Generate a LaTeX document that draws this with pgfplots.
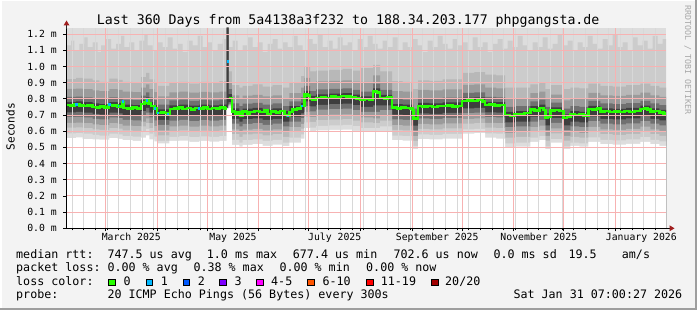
\documentclass[border=0pt]{standalone}
\usepackage{pgfplots}
\pgfplotsset{compat=1.18}
\usepackage{pgfplotstable}
\usepackage{fontspec}
\setmainfont{DejaVu Sans Mono}
\setmonofont{DejaVu Sans Mono}
\definecolor{bgc}{RGB}{243,243,243}
\definecolor{cA}{RGB}{221,221,221}
\definecolor{cB}{RGB}{204,204,204}
\definecolor{cC}{RGB}{184,184,184}
\definecolor{cD}{RGB}{155,155,155}
\definecolor{cE}{RGB}{112,112,112}
\definecolor{cF}{RGB}{62,62,62}
\definecolor{med0}{RGB}{38,255,0}
\definecolor{med1}{RGB}{0,184,255}
\definecolor{med2}{RGB}{0,89,255}
\definecolor{med3}{RGB}{126,0,255}
\definecolor{med4}{RGB}{255,0,255}
\definecolor{med6}{RGB}{255,85,0}
\definecolor{med11}{RGB}{255,0,0}
\definecolor{med20}{RGB}{161,0,0}
\definecolor{arrowc}{RGB}{160,30,30}
\definecolor{wmark}{RGB}{168,168,168}
\definecolor{edgec}{RGB}{158,158,158}
\definecolor{mgrid}{RGB}{247,178,178}
\definecolor{ngrid}{RGB}{216,216,216}
\newcommand\legfont{\fontsize{11.68bp}{13bp}\selectfont}
\newcommand\titfont{\fontsize{13.25bp}{15bp}\selectfont}
\newcommand\axfont{\fontsize{9.8bp}{11bp}\selectfont}
\newcommand\labfont{\fontsize{11.1bp}{12bp}\selectfont}
\newcommand\wmfont{\fontsize{8.3bp}{9bp}\selectfont}

\pgfplotstableread{
d m u3 u4 u5 u6 l6 l5 l4 l3 l2 l1
0 .762 .922 .862 .812 .782 .717 .687 .652 .622 .587 .557
6 .764 .930 .864 .814 .784 .719 .689 .654 .624 .589 .562
10 .760 .925 .860 .810 .780 .715 .685 .650 .620 .585 .552
16 .752 .915 .852 .802 .772 .707 .677 .642 .612 .577 .550
20 .748 .905 .848 .798 .768 .703 .673 .638 .608 .573 .548
26 .760 .925 .860 .810 .780 .715 .685 .650 .620 .585 .558
31 .756 .918 .856 .806 .776 .711 .681 .646 .616 .581 .553
34 .745 .905 .845 .795 .765 .700 .670 .635 .605 .570 .545
40 .742 .900 .842 .792 .762 .697 .667 .632 .602 .567 .540
45 .770 .935 .870 .820 .790 .725 .695 .660 .630 .595 .560
48 .790 .960 .890 .840 .810 .745 .715 .680 .650 .615 .575
50 .760 .920 .860 .810 .780 .715 .685 .650 .620 .585 .550
53 .742 .900 .842 .792 .762 .697 .667 .632 .602 .567 .537
54.5 .715 .880 .815 .765 .735 .670 .640 .605 .575 .540 .525
62 .740 .900 .840 .790 .760 .695 .665 .630 .600 .565 .540
68 .745 .905 .845 .795 .765 .700 .670 .635 .605 .570 .542
74 .738 .895 .838 .788 .758 .693 .663 .628 .598 .563 .535
80 .744 .905 .844 .794 .764 .699 .669 .634 .604 .569 .540
86 .740 .900 .840 .790 .760 .695 .665 .630 .600 .565 .536
92 .745 .910 .845 .795 .765 .700 .670 .635 .605 .570 .540
96.3 1.03 1.24 1.24 1.24 1.24 .745 .744 .743 .742 .741 .740
97.6 .806 .970 .900 .860 .830 .780 .770 .765 .760 .755 .745
99.5 .722 .885 .822 .772 .742 .677 .647 .612 .582 .547 .515
104 .700 .870 .805 .755 .725 .660 .630 .595 .565 .530 .505
106 .720 .880 .820 .770 .740 .675 .645 .610 .580 .545 .515
112 .725 .890 .825 .775 .745 .680 .650 .615 .585 .550 .520
118 .715 .875 .815 .765 .735 .670 .640 .605 .575 .540 .510
124 .722 .885 .822 .772 .742 .677 .647 .612 .582 .547 .518
130 .705 .870 .805 .755 .725 .660 .630 .595 .565 .530 .508
134 .735 .900 .835 .785 .755 .690 .660 .625 .595 .560 .530
141 .756 .940 .870 .810 .776 .711 .681 .646 .616 .581 .555
143 .830 1.00 .930 .880 .850 .785 .755 .720 .690 .655 .620
146.5 .798 .970 .898 .848 .818 .753 .723 .688 .658 .623 .600
150 .808 .975 .908 .858 .828 .763 .733 .698 .668 .633 .605
158 .812 .980 .912 .862 .832 .767 .737 .702 .672 .637 .608
166 .815 .985 .915 .865 .835 .770 .740 .705 .675 .640 .610
172 .806 .975 .906 .856 .826 .761 .731 .696 .666 .631 .603
176.5 .795 .990 .905 .845 .815 .750 .720 .685 .655 .620 .595
184.3 .845 1.01 .945 .895 .865 .760 .720 .680 .650 .620 .600
188.5 .805 .970 .905 .855 .825 .760 .730 .695 .665 .630 .600
195.7 .748 .910 .848 .798 .768 .703 .673 .638 .608 .573 .545
202 .745 .905 .845 .795 .765 .700 .670 .635 .605 .570 .542
208.3 .680 .860 .800 .740 .700 .635 .605 .570 .540 .510 .490
211.3 .755 .915 .855 .805 .775 .710 .680 .645 .615 .580 .552
218 .752 .912 .852 .802 .772 .707 .677 .642 .612 .577 .550
226 .758 .920 .858 .808 .778 .713 .683 .648 .618 .583 .555
237.7 .787 .960 .887 .837 .807 .742 .712 .677 .647 .612 .585
245 .790 .965 .890 .840 .810 .745 .715 .680 .650 .615 .588
251.5 .762 .950 .870 .812 .782 .717 .687 .652 .622 .587 .560
258 .760 .945 .865 .810 .780 .715 .685 .650 .620 .585 .555
263.5 .700 .870 .800 .750 .720 .655 .625 .590 .560 .525 .500
270 .705 .870 .805 .755 .725 .660 .630 .595 .565 .530 .505
278.6 .735 .890 .835 .785 .755 .690 .660 .625 .595 .560 .535
284 .745 .900 .845 .795 .765 .700 .670 .635 .605 .570 .545
287.6 .682 .860 .800 .750 .710 .637 .607 .572 .542 .507 .490
290.6 .727 .885 .827 .777 .747 .682 .652 .617 .587 .552 .530
298.4 .682 .860 .790 .740 .705 .637 .607 .572 .542 .507 .490
302.6 .705 .870 .805 .755 .725 .660 .630 .595 .565 .530 .510
308 .700 .865 .800 .750 .720 .655 .625 .590 .560 .525 .505
313.4 .737 .895 .837 .787 .757 .692 .662 .627 .597 .562 .535
320.6 .722 .880 .822 .772 .742 .677 .647 .612 .582 .547 .520
328 .718 .875 .818 .768 .738 .673 .643 .608 .578 .543 .518
336 .724 .885 .824 .774 .744 .679 .649 .614 .584 .549 .522
344.6 .738 .895 .838 .788 .758 .693 .663 .628 .598 .563 .535
350.6 .722 .880 .822 .772 .742 .677 .647 .612 .582 .547 .520
356 .712 .870 .812 .762 .732 .667 .637 .602 .572 .537 .510
360 .712 .870 .812 .762 .732 .667 .637 .602 .572 .537 .510
}\smoke

\pgfplotstableread{
d u
0 1.13
3 1.16
5 1.10
8 1.14
11 1.18
13 1.12
16 1.15
19 1.09
21 1.13
24 1.17
27 1.11
30 1.14
33 1.19
35 1.12
38 1.15
41 1.10
44 1.16
47 1.20
49 1.13
52 1.10
55 1.15
58 1.12
61 1.18
64 1.11
67 1.14
70 1.09
73 1.16
76 1.13
79 1.19
82 1.12
85 1.15
88 1.10
91 1.14
94 1.17
96.3 1.24
97.6 1.12
100 1.16
103 1.10
106 1.13
109 1.18
112 1.12
115 1.15
118 1.09
121 1.14
124 1.17
127 1.11
130 1.15
133 1.12
136 1.19
139 1.13
142 1.10
145 1.17
148 1.14
151 1.20
154 1.12
157 1.16
160 1.11
163 1.18
166 1.13
169 1.15
172 1.10
175 1.17
178 1.12
181 1.19
184 1.14
187 1.11
190 1.16
193 1.12
196 1.18
199 1.10
202 1.15
205 1.12
208 1.17
211 1.13
214 1.09
217 1.16
220 1.12
223 1.19
226 1.14
229 1.11
232 1.17
235 1.13
238 1.15
241 1.10
244 1.18
247 1.12
250 1.15
253 1.09
256 1.14
259 1.17
262 1.11
265 1.16
268 1.12
271 1.19
274 1.13
277 1.10
280 1.15
283 1.12
286 1.18
289 1.11
292 1.14
295 1.20
298 1.13
301 1.16
304 1.10
307 1.15
310 1.12
313 1.19
316 1.14
319 1.11
322 1.17
325 1.13
328 1.20
331 1.12
334 1.15
337 1.10
340 1.18
343 1.13
346 1.16
349 1.11
352 1.19
355 1.14
358 1.17
360 1.17
}\topbars

\pgfplotstableread{
d m
0 .762
2.5 .758
5 .764
8 .760
10.5 .755
13 .758
16 .750
18 .746
20.5 .752
23 .748
25.5 .762
28 .758
31 .754
33.5 .782
34.5 .745
37 .742
40 .746
42.5 .740
45 .768
47 .778
48.3 .790
49.5 .772
51 .755
53 .742
54.5 .712
57 .716
59.5 .712
61 .707
62.5 .738
65 .742
67.5 .748
70 .738
72.5 .743
75 .735
77.5 .745
80 .742
82.5 .748
85 .738
87.5 .744
90 .740
92.5 .748
95 .742
96.3 .742
96.31 nan
97.6 .806
99.5 .722
101.5 .700
103 .718
104.5 .693
106 .722
108.5 .705
110 .720
113 .725
116 .718
119 .728
121 .705
123 .722
126 .716
128.5 .724
131 .700
132.5 .694
134 .718
136 .735
138.5 .740
141 .756
143 .830
145 .822
146.5 .798
148 .792
150 .805
153 .810
156 .806
159 .815
162 .812
165 .818
168 .814
171 .808
174 .803
176.5 .795
179 .798
182 .792
184.3 .845
186.5 .838
188.5 .805
191 .800
193 .808
195.7 .748
198.5 .742
201 .748
204 .745
206.5 .740
207.8 .730
208.6 .680
211.3 .755
214 .752
217 .756
220 .750
223 .757
226 .755
229 .758
232 .753
235 .756
237.7 .787
241 .790
244 .786
247 .792
250 .785
251.5 .762
254 .765
257 .758
260 .762
263.5 .700
266.5 .693
269 .702
272 .705
275 .712
278.6 .735
281 .728
284 .745
286.6 .730
287.6 .682
289 .690
290.6 .727
293 .730
296 .725
298.4 .682
300.5 .690
302.6 .705
305 .700
308 .708
310.5 .698
313.4 .737
316 .735
318.5 .740
320.6 .722
323.5 .725
326 .718
329 .722
332 .718
335 .725
338 .720
341 .724
344.6 .738
347 .742
349 .735
350.6 .722
353 .725
356 .716
358.5 .710
360 .710
}\median

\begin{document}
\begin{tikzpicture}[x=1bp,y=1bp]
\fill[bgc] (0,0) rectangle (697,310);
\useasboundingbox (0,0) rectangle (697,310);
\fill[white] (0,308.5) rectangle (697,310);
\fill[white] (0,0) rectangle (1.5,310);
\fill[edgec] (0,0) rectangle (697,2.5);
\fill[edgec] (694.5,0) rectangle (697,310);

\begin{axis}[
  at={(66bp,81.7bp)}, anchor=south west,
  scale only axis, width=600bp, height=200.6bp,
  xmin=0, xmax=360, ymin=0, ymax=1.24,
  axis x line*=bottom, axis y line*=left,
  axis line style={black, line width=1bp},
  axis on top,
  axis background/.style={fill=white},
  tick align=outside,
  major tick length=3bp, minor tick length=2bp,
  tick style={black, line width=0.8bp},
  xtick={23.71,54.71,84.71,115.71,145.71,176.71,207.71,237.71,268.71,298.71,329.71},
  xticklabel=\empty,
  minor xtick={3.71,10.71,17.71,24.71,31.71,38.71,45.71,52.71,59.71,66.71,73.71,80.71,87.71,94.71,101.71,108.71,122.71,129.71,136.71,143.71,150.71,157.71,164.71,171.71,178.71,185.71,192.71,199.71,206.71,213.71,220.71,227.71,234.71,241.71,248.71,255.71,262.71,269.71,276.71,283.71,290.71,297.71,304.71,311.71,318.71,325.71,332.71,339.71,346.71,353.71},
  ytick={0,0.1,0.2,0.3,0.4,0.5,0.6,0.7,0.8,0.9,1.0,1.1,1.2},
  yticklabels={0.0 m,0.1 m,0.2 m,0.3 m,0.4 m,0.5 m,0.6 m,0.7 m,0.8 m,0.9 m,1.0 m,1.1 m,1.2 m},
  yticklabel style={font=\axfont, anchor=east, inner sep=0pt, xshift=-6bp},
  ymajorgrids=true,
  major grid style={draw=mgrid, line width=1bp, solid},
]
\addplot[fill=cA, draw=none] coordinates {(0,1.24) (360,1.24)} \closedcycle;
\addplot[fill=cB, draw=none, const plot] table[x=d,y=u] {\topbars} \closedcycle;
\addplot[fill=cC, draw=none, const plot] table[x=d,y=u3] {\smoke} \closedcycle;
\addplot[fill=cD, draw=none, const plot] table[x=d,y=u4] {\smoke} \closedcycle;
\addplot[fill=cE, draw=none, const plot] table[x=d,y=u5] {\smoke} \closedcycle;
\addplot[fill=cF, draw=none, const plot] table[x=d,y=u6] {\smoke} \closedcycle;
\addplot[fill=cE, draw=none, const plot] table[x=d,y=l6] {\smoke} \closedcycle;
\addplot[fill=cD, draw=none, const plot] table[x=d,y=l5] {\smoke} \closedcycle;
\addplot[fill=cC, draw=none, const plot] table[x=d,y=l4] {\smoke} \closedcycle;
\addplot[fill=cB, draw=none, const plot] table[x=d,y=l3] {\smoke} \closedcycle;
\addplot[fill=cA, draw=none, const plot] table[x=d,y=l2] {\smoke} \closedcycle;
\addplot[fill=white, draw=none, const plot] table[x=d,y=l1] {\smoke} \closedcycle;
% weekly (grey) and monthly (red) vertical grid lines
\addplot[draw=ngrid, line width=1bp, solid, ycomb, mark=none, forget plot] coordinates {
(3.71,1.24) (10.71,1.24) (17.71,1.24) (24.71,1.24) (31.71,1.24) (38.71,1.24) (45.71,1.24) (52.71,1.24) (59.71,1.24) (66.71,1.24) (73.71,1.24) (80.71,1.24) (87.71,1.24) (94.71,1.24) (101.71,1.24) (108.71,1.24) (122.71,1.24) (129.71,1.24) (136.71,1.24) (143.71,1.24) (150.71,1.24) (157.71,1.24) (164.71,1.24) (171.71,1.24) (178.71,1.24) (185.71,1.24) (192.71,1.24) (199.71,1.24) (206.71,1.24) (213.71,1.24) (220.71,1.24) (227.71,1.24) (234.71,1.24) (241.71,1.24) (248.71,1.24) (255.71,1.24) (262.71,1.24) (269.71,1.24) (276.71,1.24) (283.71,1.24) (290.71,1.24) (297.71,1.24) (304.71,1.24) (311.71,1.24) (318.71,1.24) (325.71,1.24) (332.71,1.24) (339.71,1.24) (346.71,1.24) (353.71,1.24)};
\addplot[draw=mgrid, line width=1bp, solid, ycomb, mark=none, forget plot] coordinates {
(23.71,1.24) (54.71,1.24) (84.71,1.24) (115.71,1.24) (145.71,1.24) (176.71,1.24) (207.71,1.24) (237.71,1.24) (268.71,1.24) (298.71,1.24) (329.71,1.24)};
\addplot[med0, line width=2.5bp, const plot, unbounded coords=jump] table[x=d,y=m] {\median};
\addplot[med1, line width=2.5bp, unbounded coords=jump] coordinates {
(5.4,0.764) (7.2,0.764) (7.2,nan)
(25,0.766) (27,0.766) (27,nan)
(31,0.756) (32,0.756) (32,nan)
(33.5,0.783) (34.5,0.783) (34.5,nan)
(48,0.790) (49,0.790) (49,nan)
(53,0.742) (54,0.742) (54,nan)
(54.5,0.712) (55.6,0.712) (55.6,nan)
(60.5,0.707) (61.6,0.707) (61.6,nan)
(79,0.742) (80.4,0.742) (80.4,nan)
(96.3,1.03) (97.6,1.03) (97.6,nan)
(132.5,0.694) (133.8,0.694) (133.8,nan)
(141,0.756) (142.2,0.756)};
\end{axis}

% axis extensions and arrows
\draw[black!85, line width=1bp] (66.5,281) -- (66.5,285);
\draw[black, line width=1bp] (665,81.7) -- (670,81.7);
\fill[arrowc] (63.5,284.5) -- (69.5,284.5) -- (66.5,289.5) -- cycle;
\fill[arrowc] (669.5,84.7) -- (669.5,78.7) -- (674.5,81.7) -- cycle;

% month labels (centred on mid-month)
\begin{scope}[every node/.style={anchor=base, inner sep=0pt, font=\axfont}]
\node at (131.3,69.3) {March 2025};
\node at (233.0,69.3) {May 2025};
\node at (334.7,69.3) {July 2025};
\node at (437.2,69.3) {September 2025};
\node at (538.8,69.3) {November 2025};
\node at (641.3,69.3) {January 2026};
\end{scope}

% title, axis label, watermark
\node[anchor=base west, inner sep=0pt, font=\titfont] at (96.7,286) {Last 360 Days from 5a4138a3f232 to 188.34.203.177 phpgangsta.de};
\node[rotate=90, font=\labfont, inner sep=0pt] at (10.5,183.3) {Seconds};
\node[rotate=-90, font=\wmfont, text=wmark, inner sep=0pt] at (687.7,250) {RRDTOOL / TOBI OETIKER};

% legend
\begin{scope}[every node/.style={anchor=base west, inner sep=0pt, font=\legfont}]
\node at (16,51.7) {median rtt:};
\node at (107.3,51.7) {747.5 us avg};
\node at (206.7,51.7) {1.0 ms max};
\node at (292.7,51.7) {677.4 us min};
\node at (393.3,51.7) {702.6 us now};
\node at (493.3,51.7) {0.0 ms sd};
\node at (568.3,51.7) {19.5};
\node at (621.7,51.7) {am/s};
\node at (16,38.3) {packet loss:};
\node at (107.3,38.3) {0.00 \% avg};
\node at (193.3,38.3) {0.38 \% max};
\node at (279.3,38.3) {0.00 \% min};
\node at (366,38.3) {0.00 \% now};
\node at (16,24.3) {loss color:};
\node at (123.3,24.3) {0};
\node at (160.7,24.3) {1};
\node at (197.7,24.3) {2};
\node at (234.3,24.3) {3};
\node at (271,24.3) {4-5};
\node at (322.3,24.3) {6-10};
\node at (380.7,24.3) {11-19};
\node at (445,24.3) {20/20};
\node at (16,11.3) {probe:};
\node at (107.3,11.3) {20 ICMP Echo Pings (56 Bytes) every 300s};
\node at (513.3,11.3) {Sat Jan 31 07:00:27 2026};
\end{scope}
\begin{scope}[line width=0.9bp, draw=black]
\filldraw[fill=med0] (108.7,24.2) rectangle (115.3,30.8);
\filldraw[fill=med1] (146.1,24.2) rectangle (152.7,30.8);
\filldraw[fill=med2] (183.1,24.2) rectangle (189.7,30.8);
\filldraw[fill=med3] (219.7,24.2) rectangle (226.3,30.8);
\filldraw[fill=med4] (256.4,24.2) rectangle (263.0,30.8);
\filldraw[fill=med6] (307.7,24.2) rectangle (314.3,30.8);
\filldraw[fill=med11] (366.4,24.2) rectangle (373.0,30.8);
\filldraw[fill=med20] (431.4,24.2) rectangle (438.0,30.8);
\end{scope}
\end{tikzpicture}
\end{document}
